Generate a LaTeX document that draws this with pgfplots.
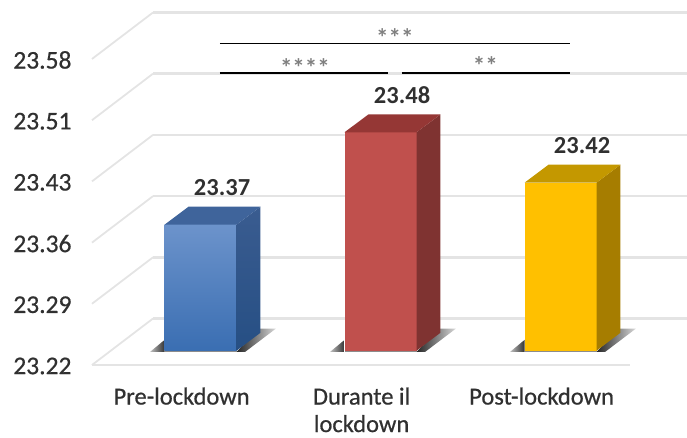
\documentclass[border=0pt]{standalone}
\usepackage{fontspec}
\setmainfont{Carlito}
\newfontfamily\labelfont[FakeBold=0.6]{Carlito}
\usepackage{pgfplots}
\pgfplotsset{compat=1.18}
\definecolor{gridc}{HTML}{E4E4E4}
\definecolor{txt}{HTML}{303030}
\definecolor{starc}{HTML}{808080}
\definecolor{bluetop}{HTML}{3F649B}
\definecolor{bluefa}{HTML}{6C93CB}
\definecolor{bluefb}{HTML}{3A6EB2}
\definecolor{bluesa}{HTML}{3A5C90}
\definecolor{bluesb}{HTML}{264F84}
\definecolor{redf}{HTML}{C0504D}
\definecolor{reds}{HTML}{7F3331}
\definecolor{redt}{HTML}{953735}
\definecolor{yelf}{HTML}{FFC000}
\definecolor{yels}{HTML}{A67D00}
\definecolor{yelt}{HTML}{C49800}
\tikzset{
  backgrid/.style={draw=gridc,line width=2.6pt},
  sidegrid/.style={draw=gridc,line width=1.8pt},
  floorshade/.style={draw=none,left color=black!85,right color=black!15},
  floorshadel/.style={draw=none,left color=black!25,right color=black!80},
  floorstrip/.style={draw=none,fill=black!45},
}
\begin{document}
\begin{tikzpicture}
\useasboundingbox (-92pt,-73pt) rectangle (595pt,365pt);
\begin{axis}[
  at={(0pt,0pt)},anchor=south west,
  scale only axis,width=595pt,height=365pt,
  xmin=-0.6028,xmax=2.7028,ymin=23.2030,ymax=23.6375,
  clip=false,
  axis line style={draw=none},
  tick style={draw=none},
  ytick={23.2030,23.2759,23.3487,23.4216,23.4944,23.5673},
  yticklabels={23.22,23.29,23.36,23.43,23.51,23.58},
  xtick={-0.105,0.895,1.895},
  xticklabels={Pre-lockdown,{Durante il\\lockdown},Post-lockdown},
  yticklabel style={font=\labelfont\fontsize{25.5}{28}\selectfont,text=txt,xshift=-17pt,yshift=-1pt},
  xticklabel style={font=\labelfont\fontsize{24.5}{27.5}\selectfont,text=txt,align=center,yshift=-19pt},
]
% depth lines on the side wall
\addplot[sidegrid] coordinates {(-0.6028,23.2030)(-0.2639,23.2583)};
\addplot[sidegrid] coordinates {(-0.6028,23.2759)(-0.2639,23.3312)};
\addplot[sidegrid] coordinates {(-0.6028,23.3487)(-0.2639,23.4040)};
\addplot[sidegrid] coordinates {(-0.6028,23.4216)(-0.2639,23.4769)};
\addplot[sidegrid] coordinates {(-0.6028,23.4944)(-0.2639,23.5498)};
\addplot[sidegrid] coordinates {(-0.6028,23.5673)(-0.2639,23.6226)};
% horizontal lines on the back wall
\addplot[backgrid] coordinates {(-0.2639,23.2583)(2.7028,23.2583)};
\addplot[backgrid] coordinates {(-0.2639,23.3312)(2.7028,23.3312)};
\addplot[backgrid] coordinates {(-0.2639,23.4040)(2.7028,23.4040)};
\addplot[backgrid] coordinates {(-0.2639,23.4769)(2.7028,23.4769)};
\addplot[backgrid] coordinates {(-0.2639,23.5498)(2.7028,23.5498)};
\addplot[backgrid] coordinates {(-0.2639,23.6226)(2.7028,23.6226)};
% front edge of the floor
\addplot[backgrid] coordinates {(-0.6028,23.2030)(2.3861,23.2030)};

% floor shadows
\addplot[floorshadel] coordinates {(-0.2806,23.2185)(-0.2,23.2328)(-0.2,23.2185)} --cycle;
\addplot[floorshade] coordinates {(0.2,23.2185)(0.3306,23.2464)(0.4194,23.2464)(0.2472,23.2185)} --cycle;
\addplot[floorstrip] coordinates {(-0.2,23.2185)(0.2,23.2185)(0.2,23.2210)(-0.2,23.2210)} --cycle;
\addplot[floorshadel] coordinates {(0.7194,23.2185)(0.8,23.2328)(0.8,23.2185)} --cycle;
\addplot[floorshade] coordinates {(1.2,23.2185)(1.3306,23.2464)(1.4194,23.2464)(1.2472,23.2185)} --cycle;
\addplot[floorstrip] coordinates {(0.8,23.2185)(1.2,23.2185)(1.2,23.2210)(0.8,23.2210)} --cycle;
\addplot[floorshadel] coordinates {(1.7194,23.2185)(1.8,23.2328)(1.8,23.2185)} --cycle;
\addplot[floorshade] coordinates {(2.2,23.2185)(2.3306,23.2464)(2.4194,23.2464)(2.2472,23.2185)} --cycle;
\addplot[floorstrip] coordinates {(1.8,23.2185)(2.2,23.2185)(2.2,23.2210)(1.8,23.2210)} --cycle;

% Pre-lockdown: 23.37
\addplot[draw=none,top color=bluefa,bottom color=bluefb] coordinates {(-0.2,23.22)(0.2,23.22)(0.2,23.37)(-0.2,23.37)} --cycle;
\addplot[draw=none,top color=bluesa,bottom color=bluesb] coordinates {(0.2,23.22)(0.3333,23.2414)(0.3333,23.3914)(0.2,23.37)} --cycle;
\addplot[draw=none,fill=bluetop] coordinates {(-0.2,23.37)(0.2,23.37)(0.3333,23.3914)(-0.0667,23.3914)} --cycle;
% Durante il lockdown: 23.48
\addplot[draw=none,fill=redf] coordinates {(0.8,23.22)(1.2,23.22)(1.2,23.48)(0.8,23.48)} --cycle;
\addplot[draw=none,fill=reds] coordinates {(1.2,23.22)(1.3333,23.2414)(1.3333,23.5014)(1.2,23.48)} --cycle;
\addplot[draw=none,fill=redt] coordinates {(0.8,23.48)(1.2,23.48)(1.3333,23.5014)(0.9333,23.5014)} --cycle;
% Post-lockdown: 23.42
\addplot[draw=none,fill=yelf] coordinates {(1.8,23.22)(2.2,23.22)(2.2,23.42)(1.8,23.42)} --cycle;
\addplot[draw=none,fill=yels] coordinates {(2.2,23.22)(2.3333,23.2414)(2.3333,23.4414)(2.2,23.42)} --cycle;
\addplot[draw=none,fill=yelt] coordinates {(1.8,23.42)(2.2,23.42)(2.3333,23.4414)(1.9333,23.4414)} --cycle;

% value labels
\node[font=\fontsize{24.5}{28}\selectfont\bfseries,text=txt] at (axis cs:0.12,23.414) {23.37};
\node[font=\fontsize{24.5}{28}\selectfont\bfseries,text=txt] at (axis cs:1.12,23.524) {23.48};
\node[font=\fontsize{24.5}{28}\selectfont\bfseries,text=txt] at (axis cs:2.12,23.464) {23.42};

% significance brackets
\addplot[black,line width=1.5pt] coordinates {(0.1083,23.5857)(2.0503,23.5857)};
\addplot[black,line width=1.5pt] coordinates {(0.1083,23.5506)(1.0417,23.5506)};
\addplot[black,line width=1.5pt] coordinates {(1.1194,23.5506)(2.0503,23.5506)};
\node[font=\fontsize{25}{28}\selectfont\bfseries,text=starc,anchor=center] at (axis cs:0.58,23.5566) {****};
\node[font=\fontsize{25}{28}\selectfont\bfseries,text=starc,anchor=center] at (axis cs:1.08,23.5924) {***};
\node[font=\fontsize{25}{28}\selectfont\bfseries,text=starc,anchor=center] at (axis cs:1.583,23.560) {**};
\end{axis}
\end{tikzpicture}
\end{document}
